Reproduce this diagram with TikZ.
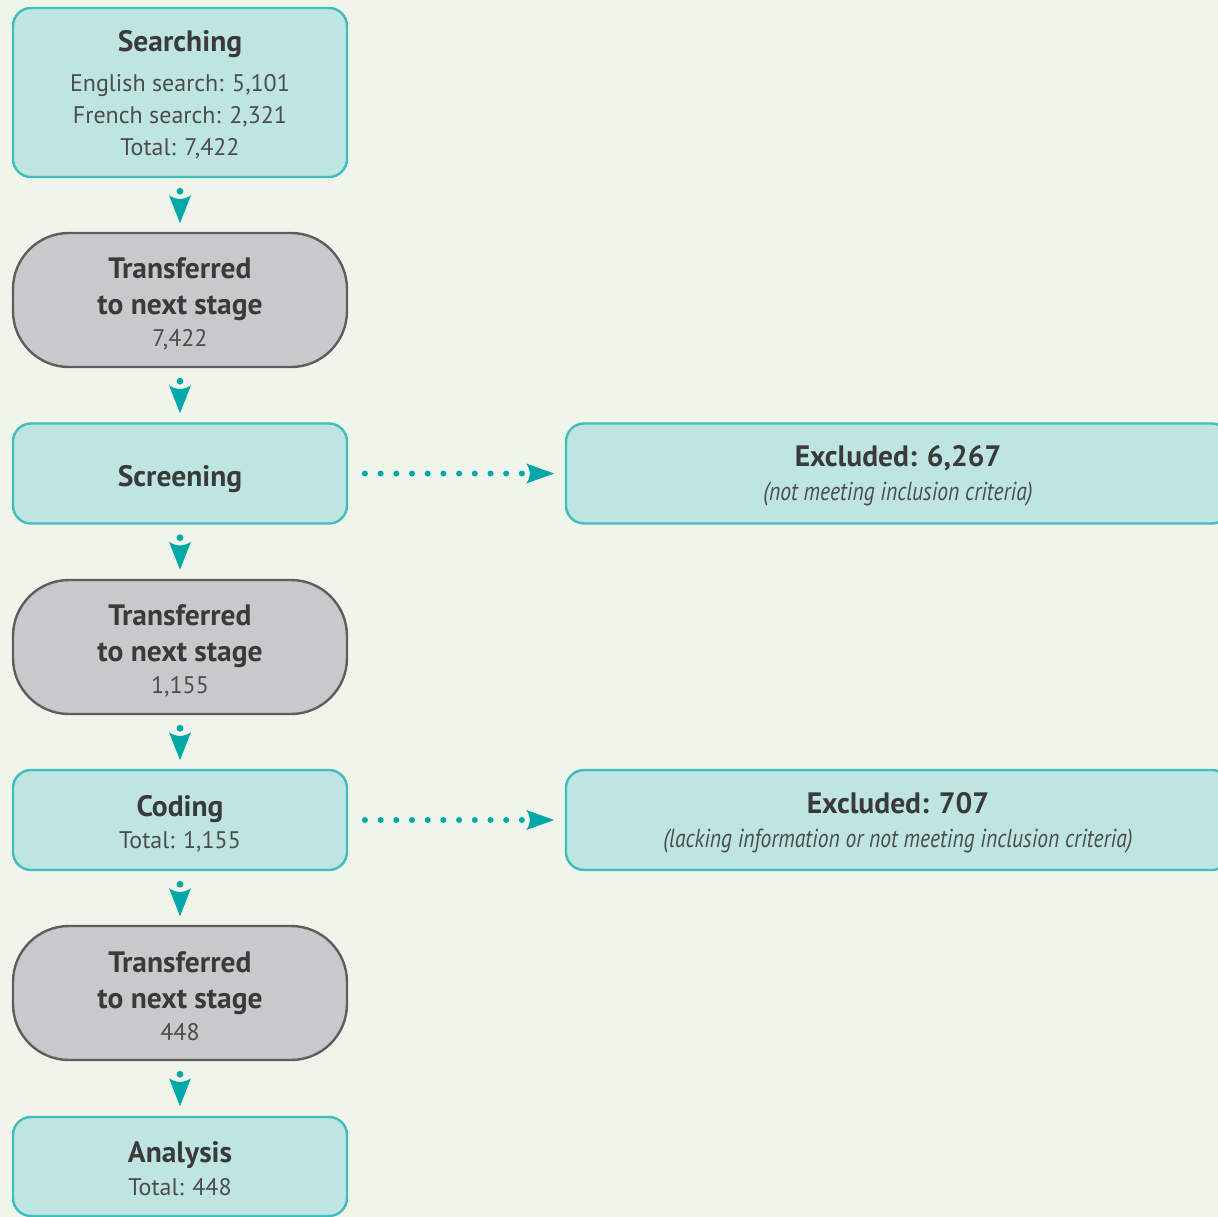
\documentclass[tikz,border=0pt]{standalone}
\usepackage{fontspec}
\setmainfont{PT Sans}
\newfontfamily\narrowit{PT Sans}[UprightFont=* Italic, FakeStretch=0.83]
\usetikzlibrary{decorations.markings}

\definecolor{pagebg}{HTML}{F0F5EA}
\definecolor{stagefill}{HTML}{BFE5E3}
\definecolor{stageline}{HTML}{40BEBE}
\definecolor{passfill}{HTML}{C9C9CB}
\definecolor{passline}{HTML}{5E5E5E}
\definecolor{flowc}{HTML}{00A9A7}
\definecolor{inkc}{HTML}{3A3A3A}
\definecolor{softink}{HTML}{4C4C4C}

\newcommand\boxtitle[1]{{\fontsize{29.5}{34}\selectfont\bfseries\color{inkc}#1}}
\newcommand\boxnote[1]{{\fontsize{26}{32}\selectfont\narrowit #1}}
% invisible strut that lowers a text block inside its box
\newcommand\padtop[1]{\rule{0pt}{#1pt}}

\tikzset{
  stagebox/.style={draw=stageline, fill=stagefill, line width=2.4pt,
    rounded corners=18pt, minimum width=334pt, inner sep=0pt, align=center,
    text=softink, font=\fontsize{24}{32}\selectfont},
  passbox/.style={draw=passline, fill=passfill, line width=2.4pt,
    rounded corners=56pt, minimum width=334pt, minimum height=134pt,
    inner sep=0pt, align=center, text=softink,
    font=\fontsize{24}{32}\selectfont},
  excbox/.style={stagebox, minimum width=664pt},
  flowdown/.style={postaction={decorate}, decoration={markings,
    mark=at position 13pt with {\fill[flowc] (0,0) circle (3.4);},
    mark=at position 17pt with {\fill[flowc] (0,-11) -- (28,0) -- (0,11)
      .. controls (5,4) and (5,-4) .. (0,-11) -- cycle;}}},
  flowaside/.style={postaction={decorate}, decoration={markings,
    mark=between positions 16.7pt and 175pt step 15.7pt with
      {\fill[flowc] (0,0) circle (3);},
    mark=at position 178pt with {\fill[flowc] (0,-10) -- (28,0) -- (0,10)
      .. controls (5,3) and (5,-3) .. (0,-10) -- cycle;}}},
}

\begin{document}
\begin{tikzpicture}[x=1pt, y=-1pt]
  \useasboundingbox (0,0) rectangle (1218,1217);
  \clip (0,0) rectangle (1218,1217);
  \fill[pagebg] (0,0) rectangle (1218,1217);

  % main column of stages
  \node[stagebox, minimum height=169pt] (search) at (180,92.5)
    {\padtop{25}\boxtitle{Searching}\\[8pt] English search: 5,101\\ French search: 2,321\\ Total: 7,422};
  \node[passbox] (pass1) at (180,300)
    {\padtop{28}\boxtitle{Transferred}\\[4pt] \boxtitle{to next stage}\\[0pt] 7,422};
  \node[stagebox, minimum height=100pt] (screen) at (180,473.5)
    {\padtop{32}\boxtitle{Screening}};
  \node[passbox] (pass2) at (180,647)
    {\padtop{28}\boxtitle{Transferred}\\[4pt] \boxtitle{to next stage}\\[0pt] 1,155};
  \node[stagebox, minimum height=100pt] (coding) at (180,820)
    {\padtop{28}\boxtitle{Coding}\\[0pt] Total: 1,155};
  \node[passbox] (pass3) at (180,993)
    {\padtop{28}\boxtitle{Transferred}\\[4pt] \boxtitle{to next stage}\\[0pt] 448};
  \node[stagebox, minimum height=99pt] (analysis) at (180,1166.5)
    {\padtop{24.5}\boxtitle{Analysis}\\[1pt] Total: 448};

  % exclusions on the right
  \node[excbox, minimum height=100pt] (excl1) at (898,473.5)
    {\padtop{26.5}\boxtitle{Excluded: 6,267}\\[2pt] \boxnote{(not meeting inclusion criteria)}};
  \node[excbox, minimum height=100pt] (excl2) at (898,820)
    {\padtop{26.5}\boxtitle{Excluded: 707}\\[2pt] \boxnote{(lacking information or not meeting inclusion criteria)}};

  % connectors
  \path[flowdown] (search.south) -- (pass1.north);
  \path[flowdown] (pass1.south) -- (screen.north);
  \path[flowdown] (screen.south) -- (pass2.north);
  \path[flowdown] (pass2.south) -- (coding.north);
  \path[flowdown] (coding.south) -- (pass3.north);
  \path[flowdown] (pass3.south) -- (analysis.north);
  \path[flowaside] (screen.east) -- (excl1.west);
  \path[flowaside] (coding.east) -- (excl2.west);
\end{tikzpicture}
\end{document}
